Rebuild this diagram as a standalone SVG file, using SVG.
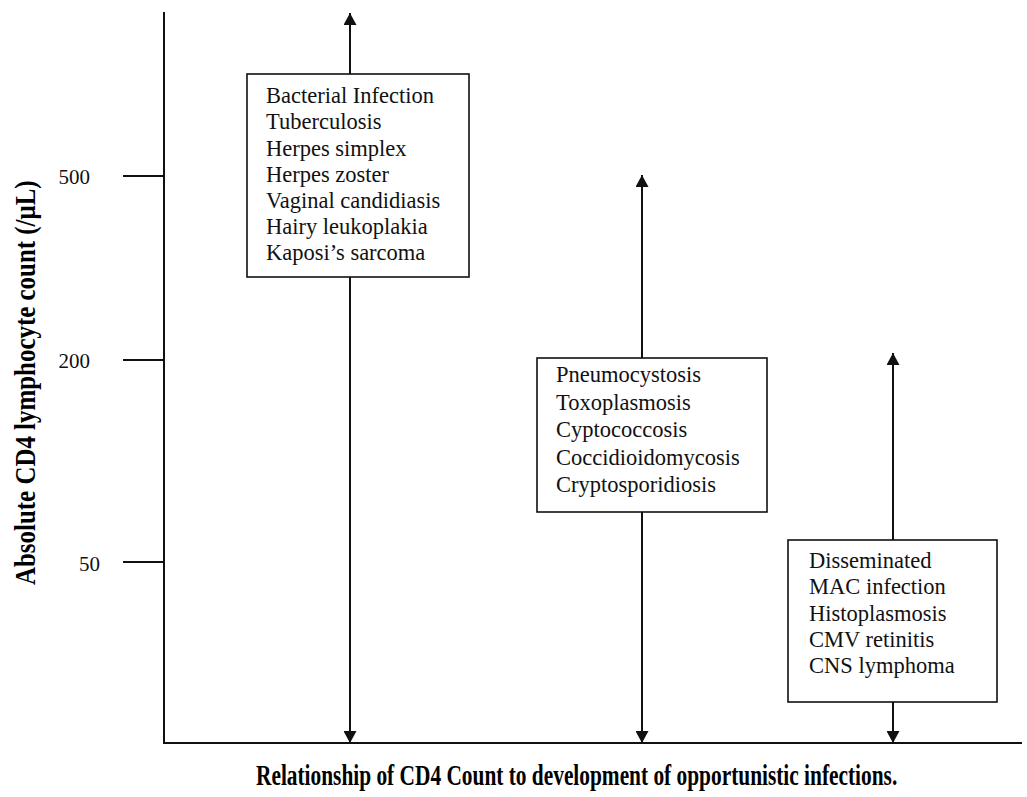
<svg xmlns="http://www.w3.org/2000/svg" width="1027" height="797" viewBox="0 0 1027 797">
<style>
.ax{stroke:#111;stroke-width:2;fill:none}
.bx{fill:#fff;stroke:#111;stroke-width:1.6}
.lbl{font-family:"Liberation Serif","Times New Roman",serif;font-size:22.5px;fill:#111}
.tick{font-family:"Liberation Serif","Times New Roman",serif;font-size:21px;fill:#111}
.ttl{font-family:"Liberation Serif","Times New Roman",serif;font-size:30px;font-weight:bold;fill:#000}
</style>
<defs>
<marker id="ah" viewBox="0 0 12 13" refX="12" refY="6.5" markerWidth="12" markerHeight="13" markerUnits="userSpaceOnUse" orient="auto">
<path d="M0,0 L12,6.5 L0,13 Z" fill="#111"/>
</marker>
</defs>
<rect width="1027" height="797" fill="#fff"/>
<g id="axes">
<line class="ax" x1="164" y1="12" x2="164" y2="743"/>
<line class="ax" x1="163" y1="743" x2="1022" y2="743"/>
<line class="ax" x1="123" y1="176" x2="164" y2="176"/>
<line class="ax" x1="123" y1="360" x2="164" y2="360"/>
<line class="ax" x1="123" y1="562" x2="164" y2="562"/>
<text class="tick" x="90" y="184" text-anchor="end">500</text>
<text class="tick" x="90" y="368" text-anchor="end">200</text>
<text class="tick" x="100" y="571" text-anchor="end">50</text>
<text class="ttl" transform="translate(35,585) rotate(-90) scale(0.85,1)" textLength="476" lengthAdjust="spacingAndGlyphs">Absolute CD4 lymphocyte count (/μL)</text>
<text class="ttl" transform="translate(256,785) scale(0.68,1)" textLength="943" lengthAdjust="spacingAndGlyphs">Relationship of CD4 Count to development of opportunistic infections.</text>
</g>
<g id="connectors">
<line class="ax" x1="350" y1="743" x2="350" y2="13" marker-end="url(#ah)"/>
<line class="ax" x1="350" y1="13" x2="350" y2="743" marker-end="url(#ah)"/>
<line class="ax" x1="642" y1="743" x2="642" y2="175" marker-end="url(#ah)"/>
<line class="ax" x1="642" y1="175" x2="642" y2="743" marker-end="url(#ah)"/>
<line class="ax" x1="893" y1="743" x2="893" y2="353" marker-end="url(#ah)"/>
<line class="ax" x1="893" y1="353" x2="893" y2="743" marker-end="url(#ah)"/>
</g>
<g id="box1">
<rect class="bx" x="247" y="74" width="222" height="203"/>
<text class="lbl" x="266" y="103">Bacterial Infection</text>
<text class="lbl" x="266" y="129">Tuberculosis</text>
<text class="lbl" x="266" y="155.5">Herpes simplex</text>
<text class="lbl" x="266" y="181.5">Herpes zoster</text>
<text class="lbl" x="266" y="207.5">Vaginal candidiasis</text>
<text class="lbl" x="266" y="234">Hairy leukoplakia</text>
<text class="lbl" x="266" y="260">Kaposi’s sarcoma</text>
</g>
<g id="box2">
<rect class="bx" x="537" y="358" width="230" height="154"/>
<text class="lbl" x="556" y="382">Pneumocystosis</text>
<text class="lbl" x="556" y="409.5">Toxoplasmosis</text>
<text class="lbl" x="556" y="437">Cyptococcosis</text>
<text class="lbl" x="556" y="464.5">Coccidioidomycosis</text>
<text class="lbl" x="556" y="492">Cryptosporidiosis</text>
</g>
<g id="box3">
<rect class="bx" x="788" y="540" width="209" height="162"/>
<text class="lbl" x="809" y="568">Disseminated</text>
<text class="lbl" x="809" y="594">MAC infection</text>
<text class="lbl" x="809" y="620.5">Histoplasmosis</text>
<text class="lbl" x="809" y="647">CMV retinitis</text>
<text class="lbl" x="809" y="673">CNS lymphoma</text>
</g>
</svg>
